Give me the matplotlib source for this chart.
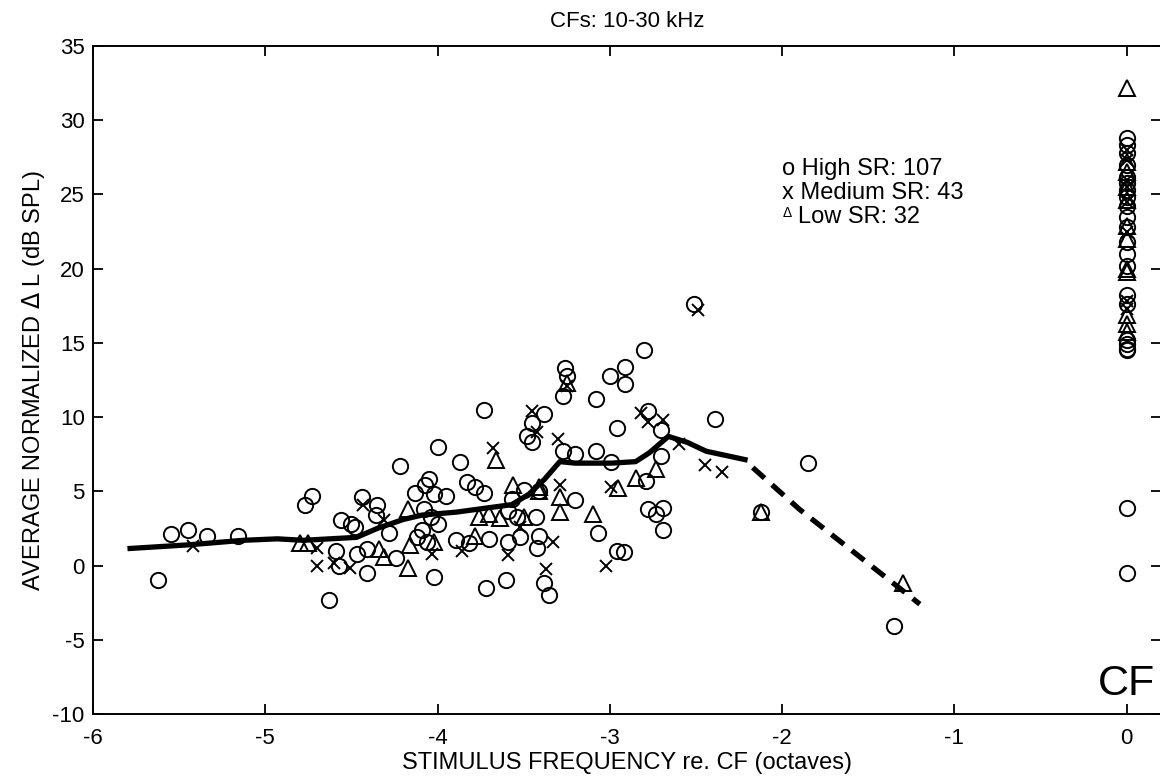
import matplotlib
matplotlib.use("Agg")
import matplotlib.pyplot as plt
import numpy as np

plt.rcParams['font.family'] = ['Liberation Sans', 'DejaVu Sans']

# ---------------- data ----------------
# High SR (circles)
high_x = [-5.62, -5.55, -5.45, -5.34, -5.16,
          -4.77, -4.73, -4.63, -4.59, -4.57, -4.56, -4.50, -4.48, -4.44, -4.47, -4.41, -4.41,
          -4.36, -4.35, -4.28, -4.24, -4.13, -4.02, -3.95, -3.83, -3.78, -3.89, -4.02, -3.72,
          -4.12, -4.09, -4.06, -4.04, -4.00, -4.08, -4.07,
          -4.22, -4.00, -4.05, -3.87, -3.73,
          -3.73, -3.82, -3.70, -3.60, -3.59, -3.59, -3.50, -3.57, -3.54, -3.48, -3.45, -3.45,
          -3.38, -3.52, -3.41, -3.42, -3.38, -3.35, -3.41, -3.43, -3.27, -3.20, -3.27, -3.25,
          -3.26, -3.20, -3.07, -3.08, -3.08, -3.00, -2.96, -2.99, -2.96, -2.92, -2.91, -2.91,
          -2.80, -2.78, -2.70, -2.79, -2.78, -2.73, -2.69, -2.69, -2.70, -2.51, -2.39, -2.12,
          -1.85, -1.35,
          0, 0, 0, 0, 0, 0, 0, 0, 0, 0, 0, 0, 0, 0, 0, 0, 0, 0, 0, 0, 0, 0]
high_y = [-0.95, 2.1, 2.4, 2.0, 2.0,
          4.1, 4.7, -2.3, 0.95, -0.05, 3.1, 2.8, 2.6, 4.6, 0.75, 1.1, -0.5,
          3.4, 4.1, 2.2, 0.5, 4.9, 4.8, 4.7, 5.6, 5.3, 1.75, -0.8, -1.5,
          1.9, 2.4, 1.6, 3.3, 2.8, 3.8, 5.4,
          6.7, 8.0, 5.8, 7.0, 10.5,
          4.9, 1.5, 1.8, -1.0, 1.6, 3.7, 5.1, 4.5, 3.3, 8.7, 8.3, 9.6,
          10.2, 1.9, 2.0, 1.2, -1.2, -2.0, 5.0, 3.3, 7.7, 7.5, 11.4, 12.8,
          13.3, 4.4, 2.2, 7.7, 11.2, 12.8, 9.3, 7.0, 1.0, 0.9, 13.4, 12.2,
          14.5, 10.4, 7.4, 5.7, 3.8, 3.5, 3.9, 2.4, 9.1, 17.6, 9.9, 3.6,
          6.9, -4.1,
          28.8, 28.3, 27.8, 27.0, 26.2, 25.8, 25.3, 24.8, 24.2, 23.5, 22.8, 21.8, 21.0, 20.2,
          18.2, 17.6, 15.2, 14.9, 14.6, 14.5, 3.9, -0.5]

# Medium SR (x)
med_x = [-5.42, -4.70, -4.70, -4.43, -4.51, -4.31, -4.03, -3.86, -4.60,
         -3.68, -3.45, -3.42, -3.30, -3.25, -3.52, -3.59, -3.37, -3.33, -3.29, -3.02,
         -2.99, -2.82, -2.78, -2.69, -2.49, -2.60, -2.45, -2.35,
         0, 0, 0, 0, 0, 0, 0, 0]
med_y = [1.3, 1.2, -0.05, 4.1, -0.15, 3.1, 0.75, 0.95, 0.2,
         7.9, 10.4, 9.0, 8.5, 12.1, 2.6, 0.7, -0.2, 1.6, 5.4, 0.0,
         5.3, 10.3, 9.7, 9.8, 17.2, 8.2, 6.8, 6.3,
         28.0, 27.3, 26.0, 25.5, 24.5, 22.5, 17.8, 17.3]

# Low SR (triangles)
low_x = [-4.80, -4.75, -4.34, -4.31, -4.17, -4.17, -4.16, -4.02, -3.78, -3.76,
         -3.25, -3.66, -3.29, -3.29, -3.41, -3.41, -3.56, -3.50, -3.70, -3.64,
         -2.73, -3.10, -2.95, -2.85, -2.12, -1.30,
         0, 0, 0, 0, 0, 0, 0, 0, 0, 0, 0, 0]
low_y = [1.5, 1.5, 1.1, 0.6, -0.15, 3.8, 1.4, 1.6, 2.0, 3.3,
         12.3, 7.1, 4.6, 3.6, 5.0, 5.3, 5.4, 3.3, 3.5, 3.2,
         6.5, 3.5, 5.2, 5.9, 3.6, -1.2,
         32.2, 27.2, 26.5, 25.5, 24.6, 22.9, 22.0, 20.0, 19.8, 16.9, 16.3, 15.7]

# Average curves
avg_x = [-5.80, -5.44, -5.13, -4.93, -4.78, -4.47, -4.35, -4.20, -4.09, -3.89, -3.70,
         -3.57, -3.47, -3.38, -3.29, -3.20, -2.99, -2.85, -2.77, -2.66, -2.55, -2.44, -2.20]
avg_y = [1.14, 1.4, 1.7, 1.8, 1.7, 1.9, 2.5, 3.1, 3.4, 3.6, 3.9,
         4.1, 4.8, 5.8, 7.0, 6.9, 6.9, 7.0, 7.6, 8.7, 8.3, 7.7, 7.1]
ext_x = [-2.17, -1.90, -1.20]
ext_y = [6.6, 3.8, -2.6]

xticks = [-6, -5, -4, -3, -2, -1, 0]
yticks = [-10, -5, 0, 5, 10, 15, 20, 25, 30, 35]

# ---------------- figure ----------------
W, H = 1160, 778
fig = plt.figure(figsize=(W / 100, H / 100), dpi=100)
ax = fig.add_axes([93 / W, 1 - 714 / H, (1161 - 93) / W, (714 - 46) / H])

ax.plot(avg_x, avg_y, color='black', lw=3.8, solid_capstyle='butt',
        solid_joinstyle='round', zorder=3)
ax.plot(ext_x, ext_y, color='black', lw=3.8, ls=(0, (3.0, 1.9)), dash_capstyle='butt', zorder=3)

ax.plot(high_x, high_y, ls='none', marker='o', ms=11, mfc='none', mec='black', mew=1.4, zorder=4)
ax.plot(med_x, med_y, ls='none', marker='x', ms=8, mec='black', mew=1.4, zorder=4)
ax.plot(low_x, low_y, ls='none', marker='^', ms=11, mfc='none', mec='black', mew=1.4, zorder=4)

ax.set_xlim(-6, 0.2)
ax.set_ylim(-10, 35)
ax.set_xticks(xticks)
ax.set_yticks(yticks)
ax.set_xticklabels([str(t) for t in xticks])
ax.set_yticklabels([str(t) for t in yticks])
ax.tick_params(direction='in', length=7.5, width=1.3, top=True, right=True, labelsize=16)
ax.tick_params(axis='x', pad=10)
ax.tick_params(axis='y', pad=6)
for s in ax.spines.values():
    s.set_linewidth(1.4)

ax.set_title('CFs: 10-30 kHz', fontsize=16, pad=14)
ax.set_xlabel('STIMULUS FREQUENCY re. CF (octaves)', fontsize=17, labelpad=2)
ax.set_ylabel('AVERAGE NORMALIZED $\\Delta$ L (dB SPL)', fontsize=17, labelpad=4)

ax.text(-2.0, 26.7, 'o High SR: 107', fontsize=17, va='center', ha='left')
ax.text(-2.0, 25.1, 'x Medium SR: 43', fontsize=17, va='center', ha='left')
ax.text(-1.995, 23.75, '\u0394', fontsize=10, va='center', ha='left')
ax.text(-1.91, 23.5, 'Low SR: 32', fontsize=17, va='center', ha='left')

ax.text(0, -8.7, 'CF', fontsize=31, ha='center', va='baseline')

fig.savefig('out.png', dpi=100)
